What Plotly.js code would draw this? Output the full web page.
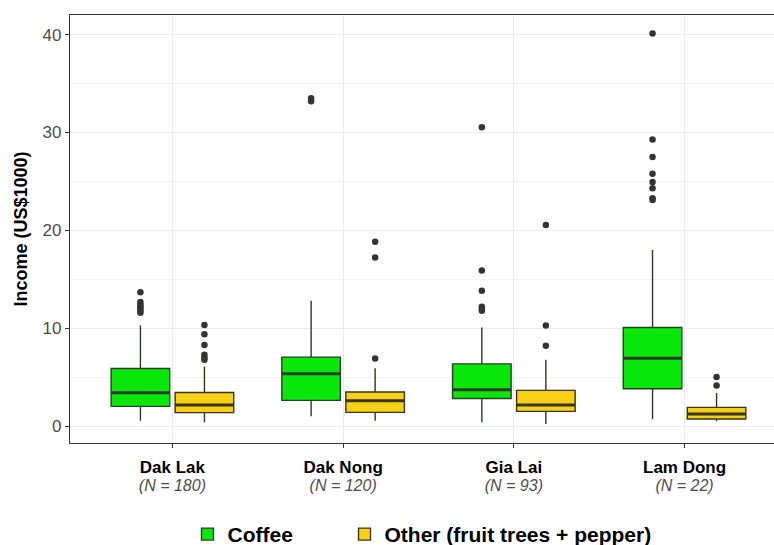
<!DOCTYPE html>
<html>
<head>
<meta charset="utf-8">
<script src="https://cdn.plot.ly/plotly-3.0.1.min.js"></script>
<style>html,body{margin:0;padding:0;background:#fff;}#chart{width:774px;height:545px;}</style>
</head>
<body>
<div id="chart"></div>
<script>
// ---- data ----
var regions = ['Dak Lak', 'Dak Nong', 'Gia Lai', 'Lam Dong'];
var nLabels = ['(N = 180)', '(N = 120)', '(N = 93)', '(N = 22)'];

var coffeeQ1     = [2.04, 2.65, 2.85, 3.84];
var coffeeMedian = [3.43, 5.37, 3.74, 6.96];
var coffeeQ3     = [5.90, 7.07, 6.38, 10.10];
var coffeeLower  = [0.58, 1.02, 0.41, 0.75];
var coffeeUpper  = [10.30, 12.83, 10.10, 18.00];
var coffeeOutliers = [
  [13.7, 12.7, 12.4, 12.2, 12.0, 11.8, 11.6],
  [33.5, 33.2],
  [30.55, 15.9, 13.85, 12.2, 12.0, 11.8],
  [40.1, 29.3, 27.5, 25.8, 24.95, 24.3, 23.3, 23.1]
];

var otherQ1     = [1.40, 1.43, 1.53, 0.75];
var otherMedian = [2.18, 2.62, 2.18, 1.26];
var otherQ3     = [3.46, 3.50, 3.67, 1.94];
var otherLower  = [0.41, 0.58, 0.24, 0.51];
var otherUpper  = [6.10, 5.94, 6.80, 3.40];
var otherOutliers = [
  [10.36, 9.4, 8.3, 7.3, 7.0, 6.8],
  [18.84, 17.25, 6.93],
  [20.57, 10.29, 8.22],
  [5.03, 4.18]
];

var yTicks = [0, 10, 20, 30, 40];

// ---- styles ----
var series = [
  {name: 'Coffee', legendPad: 8, group: 'coffee', fill: '#0be60b', line: '#2a3d2a',
   q1: coffeeQ1, med: coffeeMedian, q3: coffeeQ3, lo: coffeeLower, hi: coffeeUpper, out: coffeeOutliers},
  {name: 'Other (fruit trees + pepper)', legendPad: 0, group: 'other', fill: '#f7d117', line: '#3a3418',
   q1: otherQ1, med: otherMedian, q3: otherQ3, lo: otherLower, hi: otherUpper, out: otherOutliers}
];

var traces = [];
series.forEach(function (s) {
  traces.push({
    type: 'box', name: s.name + '\u00a0'.repeat(s.legendPad), x: regions,
    q1: s.q1, median: s.med, q3: s.q3, lowerfence: s.lo, upperfence: s.hi,
    offsetgroup: s.group, fillcolor: s.fill,
    line: {color: s.line, width: 1.4}, whiskerwidth: 0,
    boxpoints: false, hoverinfo: 'skip', showlegend: true
  });
});
// thicker median lines (ggplot fatten)
series.forEach(function (s) {
  traces.push({
    type: 'box', name: s.name + ' median', x: regions,
    q1: s.med, median: s.med, q3: s.med, lowerfence: s.med, upperfence: s.med,
    offsetgroup: s.group, fillcolor: 'rgba(0,0,0,0)',
    line: {color: s.line, width: 3}, whiskerwidth: 0,
    boxpoints: false, hoverinfo: 'skip', showlegend: false
  });
});
// outliers
series.forEach(function (s) {
  var xs = [], ys = [];
  s.out.forEach(function (arr, i) {
    arr.forEach(function (v) { xs.push(regions[i]); ys.push(v); });
  });
  traces.push({
    type: 'scatter', mode: 'markers', x: xs, y: ys,
    offsetgroup: s.group, marker: {color: '#333333', size: 6.5},
    hoverinfo: 'skip', showlegend: false
  });
});

var tickText = regions.map(function (r, i) {
  return '<span style="font-size:17px"><b>' + r + '</b></span><br>' +
         '<span style="font-size:16px;color:#4d4d4d"><i>' + nLabels[i] + '</i></span>';
});

var layout = {
  width: 774, height: 545,
  margin: {l: 70, r: 0, t: 15, b: 102},
  paper_bgcolor: '#ffffff', plot_bgcolor: '#ffffff',
  font: {family: 'Liberation Sans, Arial, sans-serif', color: '#000000'},
  boxmode: 'group', boxgap: 0.25, boxgroupgap: 0.085,
  scattermode: 'group', scattergap: 0.25,
  xaxis: {
    type: 'category', range: [-0.6, 3.524],
    tickvals: regions, ticktext: tickText,
    tickfont: {size: 14, color: '#000000'},
    showgrid: true, gridcolor: '#ebebeb', gridwidth: 1,
    showline: true, mirror: true, linecolor: '#333333', linewidth: 1.2,
    ticks: 'outside', ticklen: 4, tickcolor: '#333333', zeroline: false,
    ticklabelstandoff: 8, automargin: false
  },
  yaxis: {
    range: [-1.7, 42.0], tickvals: yTicks,
    tickfont: {size: 17, color: '#4d4d4d'},
    showgrid: true, gridcolor: '#ebebeb', gridwidth: 1,
    minor: {tick0: 5, dtick: 10, showgrid: true, gridcolor: '#f4f4f4', gridwidth: 1, ticks: ''},
    showline: true, mirror: false, linecolor: '#333333', linewidth: 1.2,
    ticks: 'outside', ticklen: 4, tickcolor: '#333333', zeroline: false,
    title: {text: '<b>Income (US$1000)</b>', font: {size: 18, color: '#000000'}, standoff: 10}
  },
  legend: {
    orientation: 'h', x: 0.5, xanchor: 'center',
    yref: 'container', y: 0.057, yanchor: 'top',
    font: {size: 21, color: '#000000', weight: 'bold'}, itemwidth: 30,
    traceorder: 'normal'
  },
  showlegend: true
};

Plotly.newPlot('chart', traces, layout, {displayModeBar: false, staticPlot: true});
</script>
</body>
</html>
